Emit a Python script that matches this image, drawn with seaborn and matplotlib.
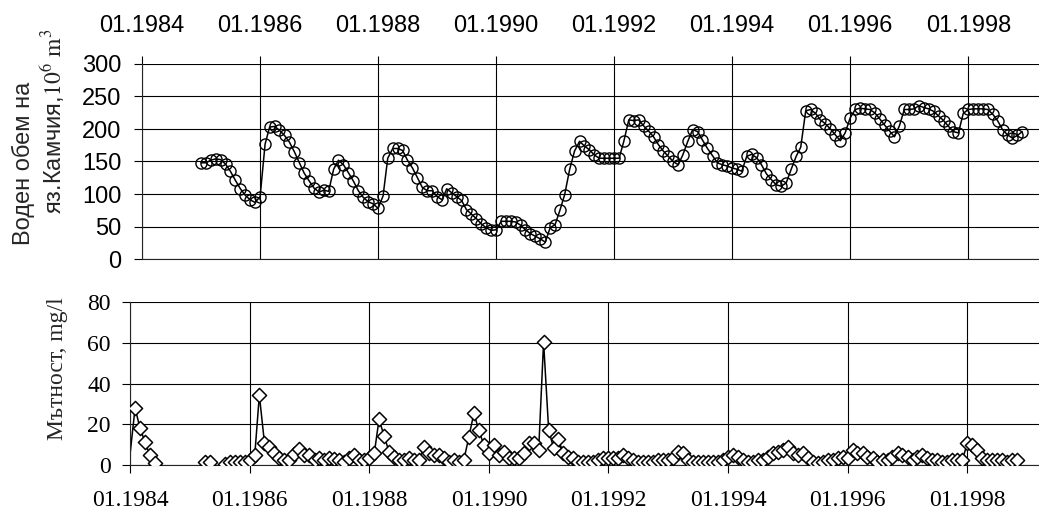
import numpy as np
import pandas as pd
import matplotlib
matplotlib.use('Agg')
import matplotlib.pyplot as plt
import seaborn as sns

# Monthly water volume of the Kamchia reservoir, 10^6 m3 (Jan 1985 - Dec 1998)
volume_start = '1985-01-01'
volume = [
    148, 148, 152, 154, 153, 146, 135, 121, 108, 98, 91, 87,      # 1985
    96, 177, 203, 204, 198, 190, 180, 165, 148, 132, 120, 109,    # 1986
    103, 106, 104, 138, 152, 145, 133, 120, 105, 95, 88, 85,      # 1987
    78, 97, 155, 170, 170, 167, 152, 140, 125, 110, 105, 105,     # 1988
    96, 91, 108, 102, 96, 90, 76, 69, 62, 54, 48, 44,             # 1989
    45, 58, 58, 58, 57, 52, 45, 39, 35, 31, 26, 48,               # 1990
    53, 76, 99, 138, 166, 181, 174, 168, 160, 155, 155, 155,      # 1991
    155, 155, 181, 214, 213, 214, 205, 197, 188, 176, 166, 158,   # 1992
    150, 145, 160, 181, 199, 196, 183, 170, 159, 148, 145, 143,   # 1993
    140, 138, 135, 158, 161, 156, 145, 131, 122, 114, 112, 117,   # 1994
    138, 158, 172, 228, 230, 224, 214, 208, 200, 191, 182, 194,   # 1995
    217, 230, 232, 231, 230, 225, 216, 206, 197, 188, 205, 230,   # 1996
    230, 231, 236, 233, 231, 227, 220, 213, 204, 196, 194, 224,   # 1997
    230, 231, 231, 231, 230, 223, 213, 199, 191, 186, 190, 196,   # 1998
]

# Monthly turbidity, mg/l (Jan 1984 - Nov 1998), None = no measurement
turbidity_start = '1984-01-01'
turbidity = [
    5, 28, 18.4, 11.4, 4.9, 0.8, None, None, None, None, None, None,      # 1984
    None, None, None, 1.6, 1.6, None, None, 0.3, 1.6, 1.6, 1.6, 1.6,      # 1985
    2.4, 4.9, 34.3, 11, 9, 6, 3.3, 2.4, 2.4, 5.4, 7.7, 4.9,               # 1986
    4.9, 2.4, 3.6, 2.4, 3.6, 2.8, 2.4, 1.6, 3.3, 4.9, 2.4, 2.4,           # 1987
    3.3, 5.7, 22.4, 14.4, 6.5, 4.1, 2.4, 2.4, 3.3, 2.4, 2.4, 9,           # 1988
    5.7, 4.9, 4.9, 3.3, 1.6, 2.4, 1.6, 2.4, 13.9, 25.3, 17.1, 9.8,        # 1989
    5.7, 9.8, 4.9, 6.5, 3.3, 3.3, 3.3, 5.7, 10.6, 10.6, 7.3, 60.4,        # 1990
    17.1, 8.2, 12.6, 5.7, 4.1, 3.3, 1.6, 1.6, 1.6, 1.6, 2.4, 3.3,         # 1991
    3.3, 3.3, 3.3, 4.9, 3.3, 2.4, 1.6, 1.6, 1.6, 1.6, 2.4, 2.4,           # 1992
    2.4, 3.3, 6.5, 5.7, 2.4, 1.6, 1.6, 1.6, 1.6, 1.6, 1.6, 2.4,           # 1993
    4.1, 4.9, 4.1, 2.4, 1.6, 1.6, 2.4, 2.4, 4.1, 5.7, 6.5, 7.5,           # 1994
    9, 5.7, 4.9, 5.7, 3.3, 1.6, 0.8, 1.6, 2.4, 2.4, 3.3, 4.1,             # 1995
    3.3, 7.3, 5.7, 5.7, 4.1, 3.3, 1.6, 2.4, 2.4, 4.1, 5.7, 4.9,           # 1996
    4.1, 2.4, 4.1, 4.9, 3.3, 2.4, 2.4, 1.6, 1.6, 2.4, 2.4, 2.4,           # 1997
    10.6, 9.8, 7.3, 3.3, 2.4, 2.4, 2.4, 2.4, 1.6, 2.4, 2.4,               # 1998
]

tick_years = [1984, 1986, 1988, 1990, 1992, 1994, 1996, 1998]
tick_labels = ['01.%d' % y for y in tick_years]
volume_ticks = [0, 50, 100, 150, 200, 250, 300]
turbidity_ticks = [0, 20, 40, 60, 80]

volume_label = ['Воден обем на', 'яз.Камчия,' + r'$\mathrm{10^6\ m^3}$']
turbidity_label = 'Мътност, mg/l'

SANS = 'Liberation Sans'
SERIF = 'Liberation Serif'

sns.set_style('ticks')
plt.rcParams['font.family'] = [SANS, 'DejaVu Sans']
plt.rcParams['mathtext.fontset'] = 'stix'

vol_df = pd.DataFrame({
    'date': pd.date_range(volume_start, periods=len(volume), freq='MS'),
    'volume': volume,
})
turb_df = pd.DataFrame({
    'date': pd.date_range(turbidity_start, periods=len(turbidity), freq='MS'),
    'turbidity': pd.to_numeric(pd.Series(turbidity, dtype=object), errors='coerce'),
})
# split the turbidity record at missing months so the line breaks there
turb_df['segment'] = turb_df['turbidity'].isna().cumsum()
turb_df = turb_df.dropna(subset=['turbidity'])

W, H = 1039, 511
fig = plt.figure(figsize=(W / 100, H / 100), dpi=100)
ax1 = fig.add_axes([142 / W, 1 - 259 / H, (W - 142) / W, 195 / H])
ax2 = fig.add_axes([130 / W, 1 - 465 / H, (W - 130) / W, 163 / H])

tick_dates = [pd.Timestamp('%d-01-01' % y) for y in tick_years]
x_left = pd.Timestamp('1984-01-01')
x_right = x_left + pd.Timedelta(days=15.2 * 365.25)
tick_len = 8 * 72 / 100
grid_kw = dict(color='black', linewidth=0.8)

# top panel: reservoir volume
sns.lineplot(data=vol_df, x='date', y='volume', ax=ax1, color='black',
             linewidth=1.1, marker='o', markersize=8, markerfacecolor='none',
             markeredgecolor='black', markeredgewidth=1.0, zorder=3)
ax1.set_xlim(x_left, x_right)
ax1.set_ylim(0, 300)
ax1.set_yticks(volume_ticks)
ax1.set_xticks(tick_dates)
ax1.set_xticklabels(tick_labels)
ax1.xaxis.tick_top()
ax1.tick_params(axis='x', top=True, bottom=False, direction='out', length=tick_len,
                width=0.8, pad=13.5, labelsize=17, labelfontfamily=SANS)
ax1.tick_params(axis='y', direction='out', length=tick_len, width=0.8, pad=9,
                labelsize=17, labelfontfamily=SANS)
ax1.grid(True, **grid_kw)
ax1.set_xlabel('')
ax1.set_ylabel('')

# bottom panel: turbidity
sns.lineplot(data=turb_df, x='date', y='turbidity', units='segment', estimator=None,
             ax=ax2, color='black', linewidth=1.1, zorder=2)
sns.scatterplot(data=turb_df.iloc[1:], x='date', y='turbidity', ax=ax2, marker='D',
                s=52, facecolor='white', edgecolor='black', linewidth=1.1, zorder=3)
ax2.set_xlim(x_left, x_right)
ax2.set_ylim(0, 80)
ax2.set_yticks(turbidity_ticks)
ax2.set_xticks(tick_dates)
ax2.set_xticklabels(tick_labels)
ax2.tick_params(axis='x', direction='out', length=tick_len, width=0.8, pad=12,
                labelsize=17, labelfontfamily=SERIF)
ax2.tick_params(axis='y', direction='out', length=tick_len, width=0.8, pad=8,
                labelsize=17, labelfontfamily=SERIF)
ax2.grid(True, **grid_kw)
ax2.set_xlabel('')
ax2.set_ylabel('')

for ax in (ax1, ax2):
    ax.set_axisbelow(True)
    ax.spines['right'].set_visible(False)
    ax.spines['top'].set_visible(False)
    ax.spines['left'].set_linewidth(0.8)
    ax.spines['bottom'].set_linewidth(0.8)
    ax.tick_params(colors='black')

fig.text(23 / W, 1 - 163 / H, volume_label[0], rotation=90, ha='center', va='center',
         fontsize=17, family=SANS)
fig.text(53 / W, 1 - 121 / H, volume_label[1], rotation=90, ha='center', va='center',
         fontsize=17, family=SANS)
fig.text(58 / W, 1 - 369 / H, turbidity_label, rotation=90, ha='center', va='center',
         fontsize=17, family=SERIF)

fig.savefig('out.png', dpi=100)
